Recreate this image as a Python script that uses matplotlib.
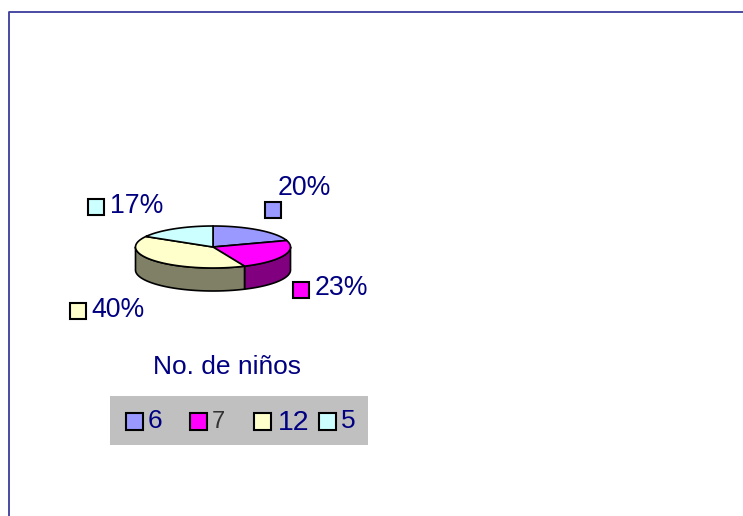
import numpy as np
import matplotlib
matplotlib.use("Agg")
import matplotlib.pyplot as plt
from matplotlib.patches import Polygon, Rectangle

plt.rcParams['font.family'] = ['Liberation Sans', 'DejaVu Sans']

categories = ["6", "7", "12", "5"]
values = [6, 7, 12, 5]
pct_labels = ["20%", "23%", "40%", "17%"]
title = "No. de niños"

top_colors = ["#9999ff", "#ff00ff", "#ffffcc", "#ccffff"]
side_colors = ["#4c4c80", "#800080", "#808066", "#668080"]
navy = "#000080"

CX, CY, RX, RY, DEPTH = 213, 247, 77.5, 21, 23

# pixel layout of the labels: swatch x, swatch y, text x, baseline
label_pos = [(265, 202, 278, 195), (293, 282, 315, 295), (70, 303, 91, 317), (88, 199, 110, 213)]
# legend: swatch x, text x, baseline, size, colour
legend_pos = [(126, 148, 428, 19, navy), (190, 212, 428, 17, "#333333"),
              (254, 278, 430, 20.5, navy), (319, 341, 428, 19, navy)]


def arc(a0, a1, dy=0):
    # angles clockwise from 12 o'clock, in degrees
    t = np.radians(np.linspace(a0, a1, max(int(abs(a1 - a0)), 2)))
    return np.column_stack([CX + RX * np.sin(t), CY + dy - RY * np.cos(t)])


fig = plt.figure(figsize=(7.43, 5.16), dpi=100)
ax = fig.add_axes([0, 0, 1, 1])
ax.set_xlim(0, 743)
ax.set_ylim(516, 0)
ax.axis("off")

# frame, only top and left show
ax.plot([743, 9, 9], [12, 12, 516], color="#3c3c9c", lw=1.3)

edges = np.cumsum([0] + values) / sum(values) * 360

# side walls first, only the front half of the disc is visible
for i in range(len(values)):
    a0, a1 = max(edges[i], 90), min(edges[i + 1], 270)
    if a1 <= a0:
        continue
    pts = np.vstack([arc(a0, a1), arc(a0, a1, DEPTH)[::-1]])
    ax.add_patch(Polygon(pts, closed=True, fc=side_colors[i], ec="black", lw=1.2, joinstyle="round"))

for i in range(len(values)):
    pts = np.vstack([[CX, CY], arc(edges[i], edges[i + 1])])
    ax.add_patch(Polygon(pts, closed=True, fc=top_colors[i], ec="black", lw=1.2, joinstyle="round"))

for i, (sx, sy, tx, ty) in enumerate(label_pos):
    ax.add_patch(Rectangle((sx, sy), 16, 16, fc=top_colors[i], ec="black", lw=1.5))
    ax.text(tx, ty, pct_labels[i], color=navy, fontsize=19.2, va="baseline", ha="left")

ax.text(153, 374, title, color=navy, fontsize=19, va="baseline", ha="left")

ax.add_patch(Rectangle((110, 396), 258, 49, fc="#c0c0c0", ec="none"))
for i, (sx, tx, ty, size, col) in enumerate(legend_pos):
    ax.add_patch(Rectangle((sx, 413), 17, 17, fc=top_colors[i], ec="black", lw=1.5))
    ax.text(tx, ty, categories[i], color=col, fontsize=size, va="baseline", ha="left")

fig.savefig("out.png", dpi=100, facecolor="white")
plt.close(fig)
